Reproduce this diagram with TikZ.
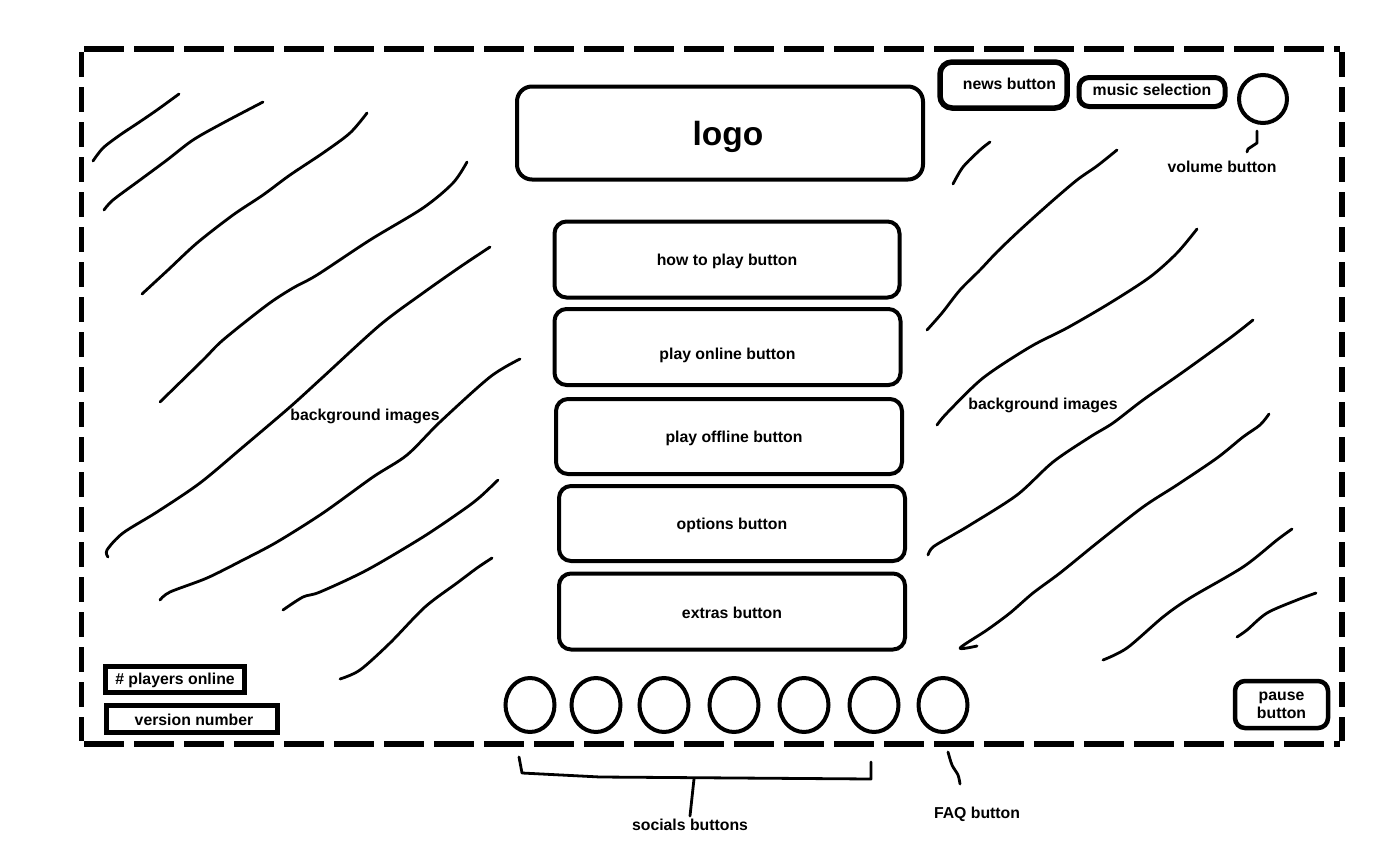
\documentclass[tikz,border=0pt]{standalone}
\usepackage{fontspec}
\setmainfont{Liberation Sans}
\usetikzlibrary{shapes.geometric}

\tikzset{
    menubox/.style={draw, line width=4pt, rounded corners=12pt, inner sep=0pt,
        font=\fontsize{15.8}{19}\selectfont\bfseries},
    tagbox/.style={draw, line width=4.5pt, inner sep=0pt,
        font=\fontsize{15.8}{19}\selectfont\bfseries},
    roundbtn/.style={draw, ellipse, line width=4pt, inner sep=0pt,
        minimum width=49pt, minimum height=54pt},
    lbl/.style={font=\fontsize{15.8}{19}\selectfont\bfseries, inner sep=1pt},
    scribble/.style={line width=2.8pt, line cap=round, line join=round},
}

\begin{document}
\begin{tikzpicture}[x=1pt, y=-1pt]
                \useasboundingbox (0,0) rectangle (1398,862);

                % Screen frame
                \draw[line width=5.5pt, dash pattern=on 40pt off 10pt] (84,49) -- (1340,49);
                \draw[line width=5.5pt, dash pattern=on 40pt off 10pt] (84,744) -- (1340,744);
                \draw[line width=5.5pt, dash pattern=on 25pt off 10pt] (81.5,52) -- (81.5,741);
                \draw[line width=5.5pt, dash pattern=on 25pt off 10pt] (1342,52) -- (1342,741);

                % Background images - left scribbles
                \draw[scribble] plot[smooth] coordinates {(93,161) (103,148) (120,135) (138,123) (157,110) (179,94)};
                \draw[scribble] plot[smooth] coordinates {(104,210) (113,200) (140,180) (167,160) (193,140) (223,123) (263,102)};
                \draw[scribble] plot[smooth] coordinates {(142,294) (168,270) (197,243) (233,215) (263,195) (290,175) (323,153) (350,133) (367,113)};
                \draw[scribble] plot[smooth] coordinates {(160,402) (203,360) (223,340) (267,305) (293,288) (317,275) (370,240) (423,208) (453,183) (467,162)};
                \draw[scribble] plot[smooth] coordinates {(108,557) (107,550) (123,533) (157,512) (200,483) (243,447) (290,407) (323,377) (380,325) (423,293) (460,267) (490,247)};
                \draw[scribble] plot[smooth] coordinates {(160,600) (170,592) (207,578) (243,560) (277,542) (323,513) (373,477) (407,455) (440,422) (490,377) (520,359)};
                \draw[scribble] plot[smooth] coordinates {(283,610) (303,597) (320,592) (367,570) (423,537) (463,510) (480,497) (498,480)};
                \draw[scribble] plot[smooth] coordinates {(340,679) (360,670) (390,643) (425,607) (457,583) (477,568) (492,558)};

                % Background images - right scribbles
                \draw[scribble] plot[smooth] coordinates {(953,184) (963,167) (980,150) (990,142)};
                \draw[scribble] plot[smooth] coordinates {(927,330) (942,313) (960,290) (980,270) (997,252) (1020,230) (1050,203) (1077,180) (1097,166) (1117,150)};
                \draw[scribble] plot[smooth] coordinates {(937,425) (947,413) (983,378) (1030,347) (1067,328) (1110,303) (1150,277) (1177,253) (1197,229)};
                \draw[scribble] plot[smooth] coordinates {(928,555) (933,547) (953,535) (970,525) (1017,495) (1053,462) (1090,437) (1113,423) (1143,400) (1183,372) (1230,338) (1253,320)};
                \draw[scribble] plot[smooth] coordinates {(977,646) (960,648) (987,630) (1010,613) (1033,593) (1060,573) (1097,543) (1143,507) (1177,485) (1217,458) (1243,437) (1260,425) (1269,414)};
                \draw[scribble] plot[smooth] coordinates {(1103,660) (1127,648) (1163,617) (1190,598) (1243,567) (1277,540) (1292,529)};
                \draw[scribble] plot[smooth] coordinates {(1237,637) (1247,630) (1267,613) (1297,600) (1316,593)};

                \node[lbl] (bgleft) at (365,416) {background images};
                \node[lbl] (bgright) at (1043,405) {background images};

                % Logo and main menu
                \node[menubox, rounded corners=15pt, minimum width=406pt, minimum height=93pt,
                    label={[font=\fontsize{33.5}{40}\selectfont\bfseries, xshift=8pt, yshift=-4pt]center:logo}] (logo) at (720,133) {};
                \node[menubox, minimum width=345pt, minimum height=76pt,
                    label={[lbl, yshift=-1.5pt]center:how to play button}] (howto) at (727,259.5) {};
                \node[menubox, minimum width=346pt, minimum height=76pt,
                    label={[lbl, yshift=-8pt]center:play online button}] (online) at (727.5,347) {};
                \node[menubox, minimum width=346pt, minimum height=75pt,
                    label={[lbl, xshift=5pt, yshift=-2pt]center:play offline button}] (offline) at (729,436.5) {};
                \node[menubox, minimum width=346pt, minimum height=75pt,
                    label={[lbl, yshift=-2pt]center:options button}] (options) at (732,523.5) {};
                \node[menubox, minimum width=346pt, minimum height=76pt,
                    label={[lbl, yshift=-1.5pt]center:extras button}] (extras) at (732,611.5) {};

                % Top right controls
                \node[menubox, line width=5.5pt, minimum width=127pt, minimum height=46pt,
                    label={[lbl, xshift=6pt, yshift=1pt]center:news button}] (news) at (1003.5,85) {};
                \node[menubox, line width=5pt, rounded corners=10pt, minimum width=146pt, minimum height=29pt,
                    label={[lbl, yshift=2pt]center:music selection}] (music) at (1152,92) {};
                \node[draw, circle, line width=4pt, minimum size=48pt, inner sep=0pt] (volume) at (1263,99) {};
                \node[lbl] (volumelbl) at (1222,167) {volume button};
                \draw[scribble] ([xshift=-6pt, yshift=-6pt]volume.south) -- ++(0,12) -- ++(-9,6) -- ++(-1,3);

                % Bottom left info
                \node[tagbox, minimum width=139pt, minimum height=26pt,
                    label={[lbl, yshift=-1pt]center:\# players online}] (players) at (175,679.5) {};
                \node[tagbox, minimum width=171pt, minimum height=27pt,
                    label={[lbl, xshift=2pt, yshift=-1pt]center:version number}] (version) at (192,719) {};

                % Pause button
                \node[menubox, line width=4.5pt, rounded corners=10pt, minimum width=93pt, minimum height=47pt,
                    label={[lbl, align=center, font=\fontsize{15.8}{18}\selectfont\bfseries, yshift=-1pt]center:pause\\button}] (pause) at (1281.5,704.5) {};

                % Social buttons and FAQ
                \foreach \cx [count=\i] in {530,596,664,734,804,874} {
                    \node[roundbtn] (social\i) at (\cx,705) {};
                }
                \node[roundbtn] (faq) at (943,705) {};

                % Brace under social buttons
                \node[lbl] (socialslbl) at (690,825) {socials buttons};
                \coordinate (braceleft) at (519,757);
                \coordinate (braceright) at (871,762);
                \coordinate (bracemid) at (694,779);
                \draw[scribble] (braceleft) -- (522,773) -- (600,777) -- (871,779) -- (braceright);
                \draw[scribble] (bracemid) -- ([yshift=2pt]socialslbl.north);

                % FAQ pointer
                \node[lbl] (faqlbl) at (977,814) {FAQ button};
                \coordinate (faqtop) at (948,752);
                \draw[scribble] plot[smooth] coordinates {(faqtop) (952,765) (958,775) (960,784)};
\end{tikzpicture}
\end{document}
